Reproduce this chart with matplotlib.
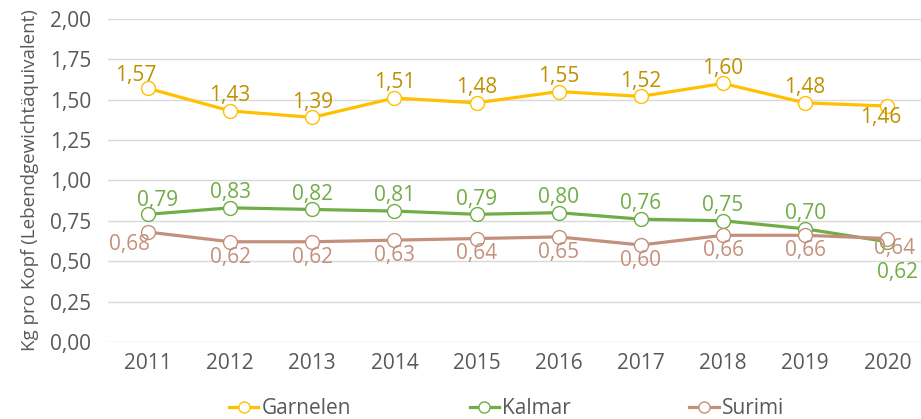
import matplotlib
matplotlib.use("Agg")
import matplotlib.pyplot as plt
from matplotlib.ticker import FuncFormatter

years = [2011, 2012, 2013, 2014, 2015, 2016, 2017, 2018, 2019, 2020]
garnelen = [1.57, 1.43, 1.39, 1.51, 1.48, 1.55, 1.52, 1.60, 1.48, 1.46]
kalmar = [0.79, 0.83, 0.82, 0.81, 0.79, 0.80, 0.76, 0.75, 0.70, 0.62]
surimi = [0.68, 0.62, 0.62, 0.63, 0.64, 0.65, 0.60, 0.66, 0.66, 0.64]

# label offsets in points (dx, dy) per data point
off_g = [(-9, 9), (0, 11), (0, 11), (0, 11), (0, 11), (0, 11), (0, 11), (0, 11), (0, 11), (-5, -8)]
off_k = [(7, 10), (0, 11), (0, 11), (0, 11), (0, 11), (0, 11), (0, 11), (0, 11), (0, 11), (7, -22)]
off_s = [(-13, -9), (0, -11), (0, -11), (0, -11), (0, -11), (0, -11), (0, -11), (0, -11), (0, -11), (5, -7)]

plt.rcParams["font.family"] = ["Open Sans", "DejaVu Sans"]

fig = plt.figure(figsize=(9.21, 4.19), dpi=100)
ax = fig.add_axes([0.117, 0.184, 0.883, 0.771])

x = list(range(len(years)))
series = [
    ("Garnelen", garnelen, "#FFC000", "#BF9000", off_g),
    ("Kalmar", kalmar, "#70AD47", "#70AD47", off_k),
    ("Surimi", surimi, "#C4907C", "#C4907C", off_s),
]
for name, vals, col, lcol, offs in series:
    ax.plot(x, vals, color=col, lw=2.3, marker="o", ms=10,
            markerfacecolor="white", markeredgecolor=col, markeredgewidth=1.0,
            label=name, zorder=3)
    for xi, v, (dx, dy) in zip(x, vals, offs):
        ax.annotate(f"{v:.2f}".replace(".", ","), (xi, v), textcoords="offset points",
                    xytext=(dx, dy), ha="center", va="center", fontsize=15,
                    color=lcol, zorder=4)

ax.set_ylim(0, 2.0)
ax.set_yticks([0, 0.25, 0.5, 0.75, 1.0, 1.25, 1.5, 1.75, 2.0])
ax.yaxis.set_major_formatter(FuncFormatter(lambda v, p: f"{v:.2f}".replace(".", ",")))
ax.set_xlim(-0.49, 9.41)
ax.set_xticks(x)
ax.set_xticklabels([str(y) for y in years])
ax.grid(axis="y", color="#D9D9D9", lw=1)
ax.set_axisbelow(True)
for s in ax.spines.values():
    s.set_visible(False)
ax.tick_params(length=0, labelsize=15, colors="#595959")
ax.tick_params(axis="y", pad=12)
ax.tick_params(axis="x", pad=8)
ax.set_ylabel("Kg pro Kopf (Lebendgewichtäquivalent)", fontsize=13.5, color="#595959", labelpad=8)

fig.legend(*ax.get_legend_handles_labels(), loc="center", bbox_to_anchor=(0.55, 0.025),
           ncol=3, frameon=False, fontsize=15, labelcolor="#595959", columnspacing=5.7,
           handlelength=1.4, handletextpad=0.15, markerscale=0.8)

fig.savefig("out.png", dpi=100)
